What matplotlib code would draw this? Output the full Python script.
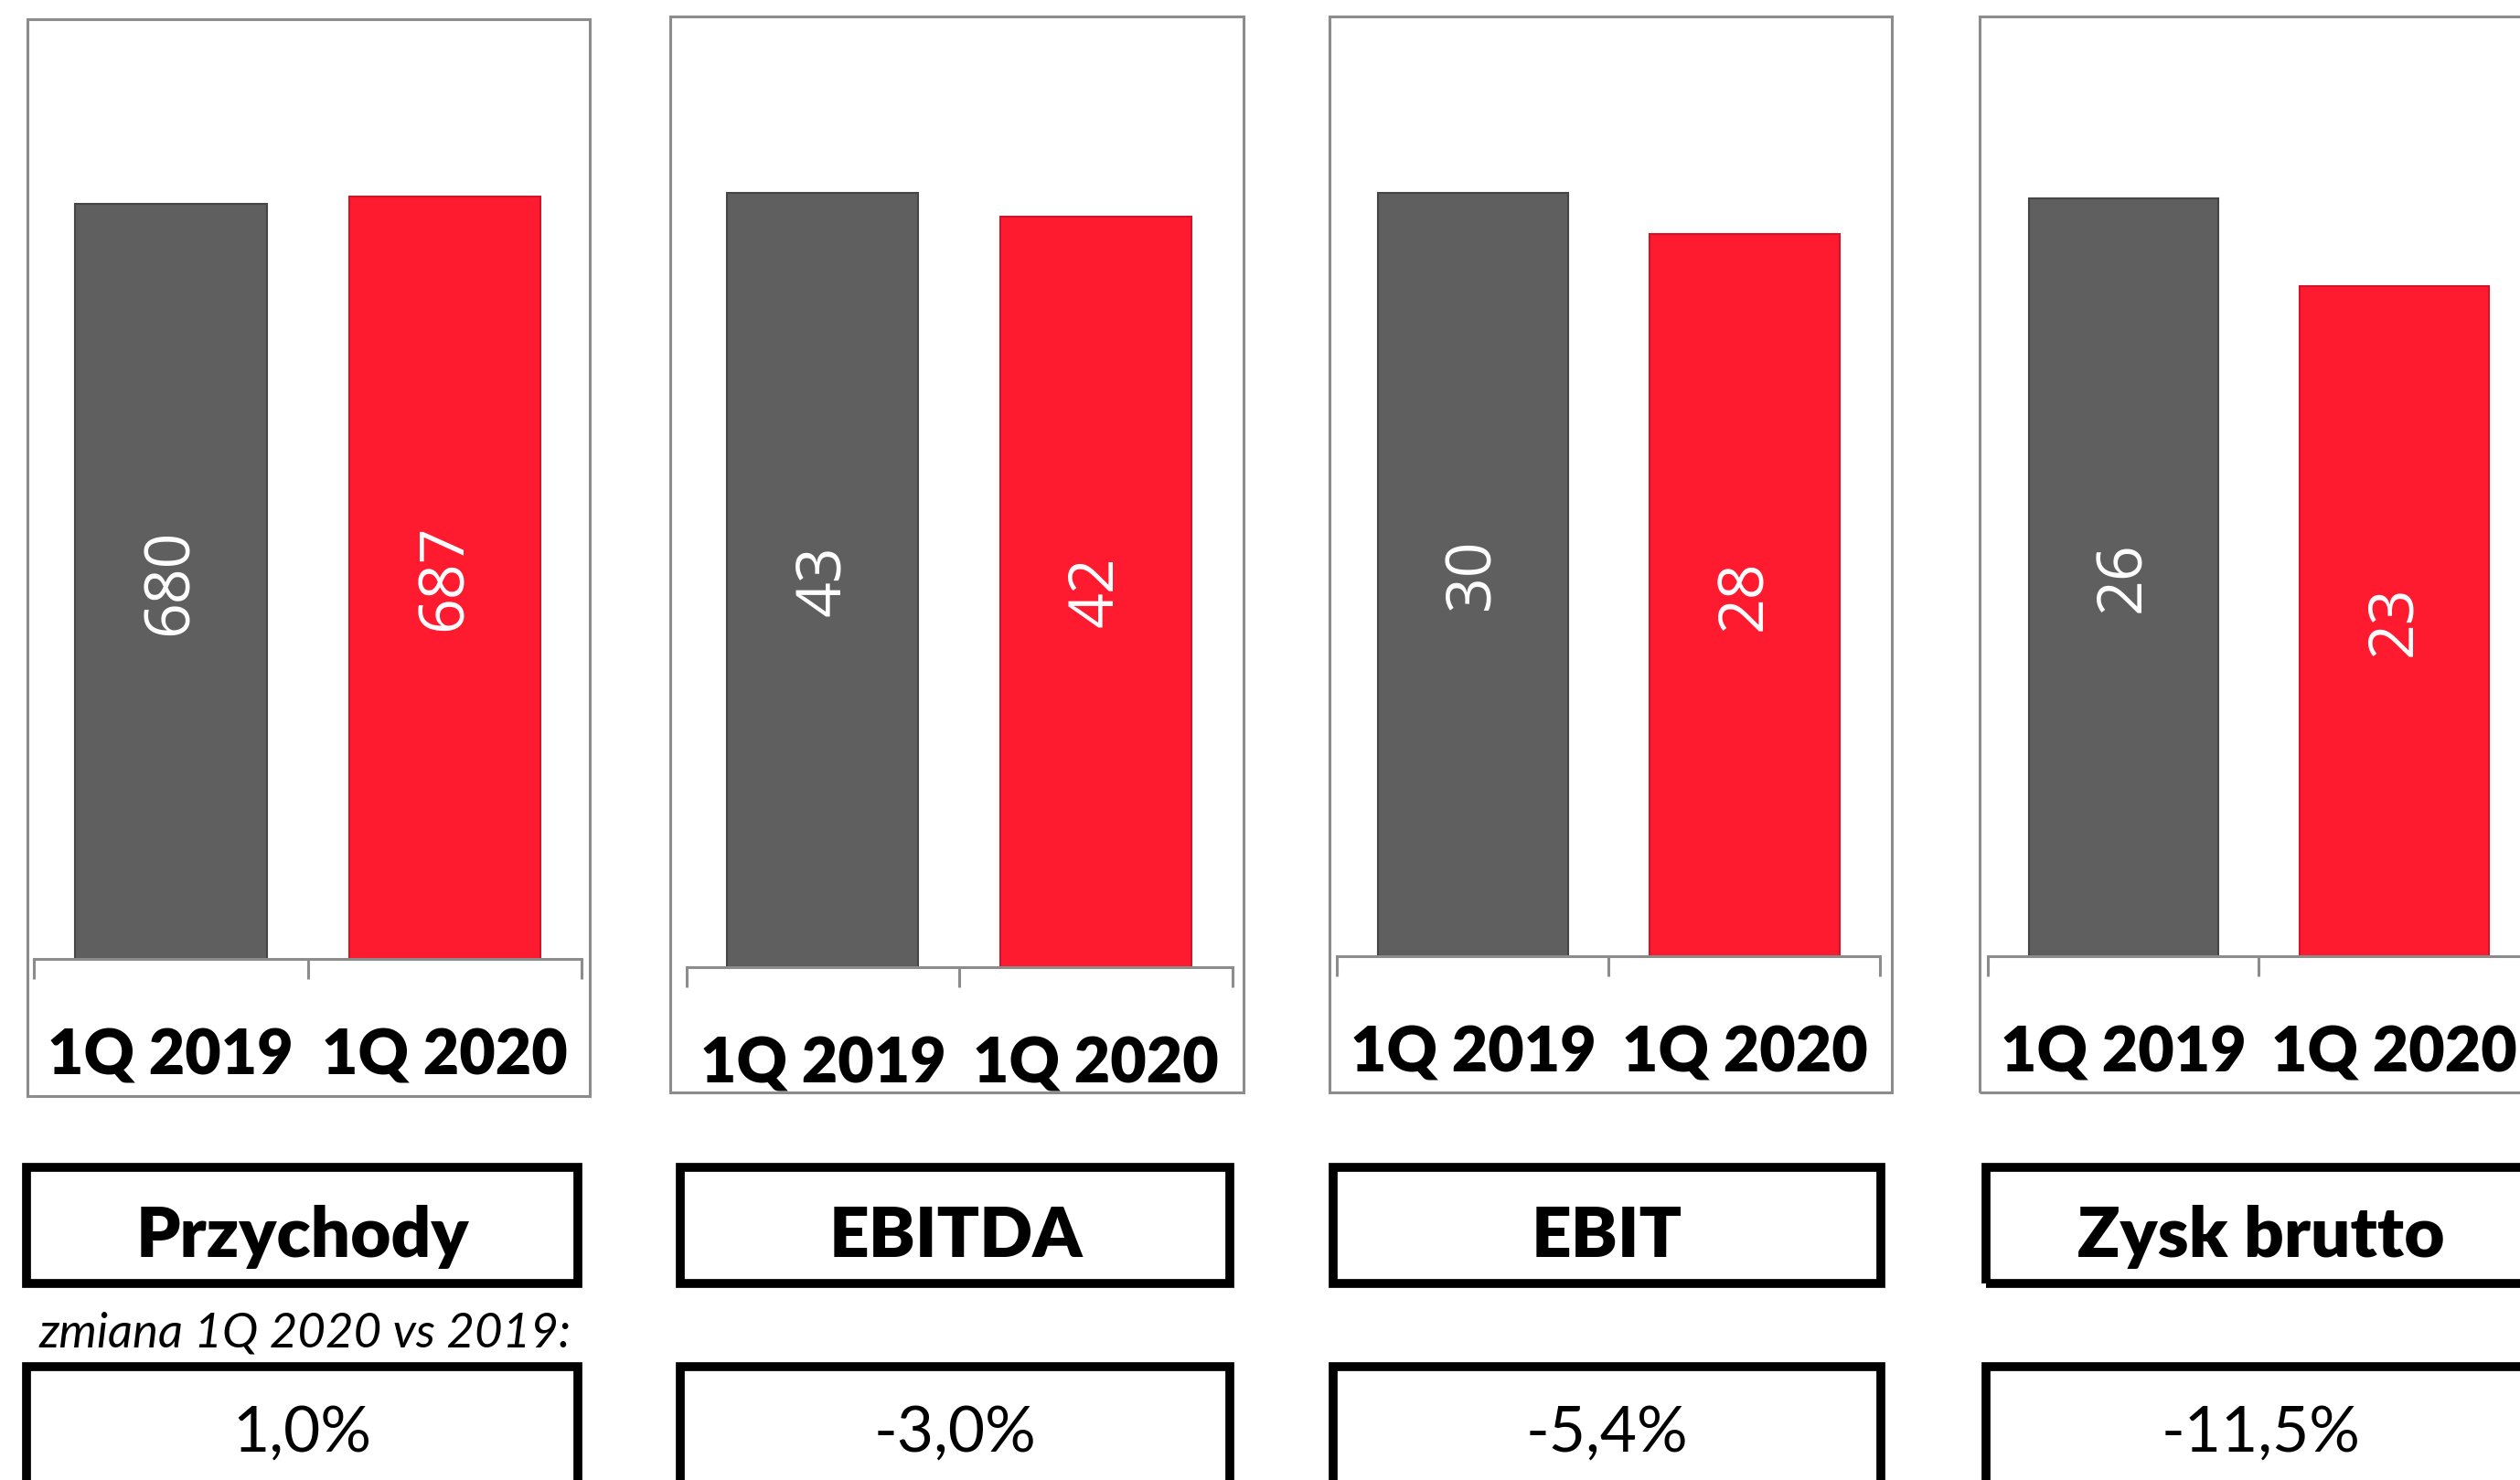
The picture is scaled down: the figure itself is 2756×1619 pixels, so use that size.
import matplotlib.pyplot as plt
from matplotlib.patches import Rectangle

# data
panel_names = ["Przychody", "EBITDA", "EBIT", "Zysk brutto"]
categories = ["1Q 2019", "1Q 2020"]
q1_2019 = [680, 43.2, 29.6, 26.0]
q1_2020 = [687, 41.9, 28.0, 23.0]
changes = ["1,0%", "-3,0%", "-5,4%", "-11,5%"]
change_caption = "zmiana 1Q 2020 vs 2019:"

# layout, in pixels of a 1568x921 canvas
W, H = 1568, 921
frames = [(17, 12, 367, 682), (417, 10, 774, 680), (827, 10, 1177, 680), (1232, 10, 1600, 680)]
axes_x = [(21, 362), (427, 767), (832, 1170), (1237, 1574)]
axes_base = [597, 602, 595, 595]
axes_top = 40
y_max = [806, 50.4, 34.6, 30.6]
boxes_x = [(14, 362), (421, 768), (827, 1173), (1233, 1620)]

GRAY = "#5f5f5f"
RED = "#fe1a2f"
LINE = "#8c8c8c"
CAL = ["Lato", "DejaVu Sans"]
VAL = ["Open Sans", "DejaVu Sans"]


def fig_rect(x0, y0, x1, y1):
    return [x0 / W, 1 - y1 / H, (x1 - x0) / W, (y1 - y0) / H]


fig = plt.figure(figsize=(27.56, 16.19), dpi=100)
fig.patch.set_facecolor("white")

for k, name in enumerate(panel_names):
    fx0, fy0, fx1, fy1 = frames[k]
    r = fig_rect(fx0, fy0, fx1, fy1)
    fig.patches.append(Rectangle((r[0], r[1]), r[2], r[3], transform=fig.transFigure,
                                 fill=False, edgecolor=LINE, lw=2.2, zorder=0))

    ax0, ax1 = axes_x[k]
    ax = fig.add_axes(fig_rect(ax0, axes_top, ax1, axes_base[k]))
    ax.set_facecolor("none")
    vals = [q1_2019[k], q1_2020[k]]
    ax.bar([0, 1], vals, width=0.7, color=[GRAY, RED],
           edgecolor=["#454545", "#d0142a"], linewidth=1.5, zorder=2)
    for i, v in enumerate(vals):
        ax.text(i, v / 2, f"{v:.0f}", rotation=90, ha="center", va="center",
                color="white", fontsize=49, family=VAL, zorder=3)
        ax.annotate(categories[i], xy=(i, 0), xycoords=("data", "axes fraction"),
                    xytext=(0, -91), textcoords="offset points",
                    ha="center", va="baseline", fontsize=49, fontweight="heavy",
                    family=CAL, annotation_clip=False)

    ax.set_xlim(-0.5, 1.5)
    ax.set_ylim(0, y_max[k])
    for s in ["top", "left", "right"]:
        ax.spines[s].set_visible(False)
    ax.spines["bottom"].set_color(LINE)
    ax.spines["bottom"].set_linewidth(2.2)
    ax.set_yticks([])
    ax.set_xticks([-0.5, 0.5, 1.5])
    ax.set_xticklabels([])
    ax.tick_params(axis="x", direction="out", length=16, width=2.2, color=LINE)

    bx0, bx1 = boxes_x[k]
    for y0, y1 in [(726.5, 798.5), (850.5, 960)]:
        r = fig_rect(bx0 + 2.5, y0, bx1 - 2.5, y1)
        fig.patches.append(Rectangle((r[0], r[1]), r[2], r[3], transform=fig.transFigure,
                                     fill=False, edgecolor="black", lw=7, zorder=1))
    cx = (bx0 + bx1) / 2 / W if k < 3 else (bx0 + 348 / 2) / W
    fig.text(cx, 1 - 782 / H, name, ha="center", va="baseline", fontsize=55,
             fontweight="heavy", family=CAL)
    fig.text(cx, 1 - 903 / H, changes[k], ha="center", va="baseline", fontsize=50,
             family=CAL)

fig.text(190 / W, 1 - 838 / H, change_caption, ha="center", va="baseline",
         fontsize=38, style="italic", family=CAL)

plt.savefig("out.png", dpi=100)
